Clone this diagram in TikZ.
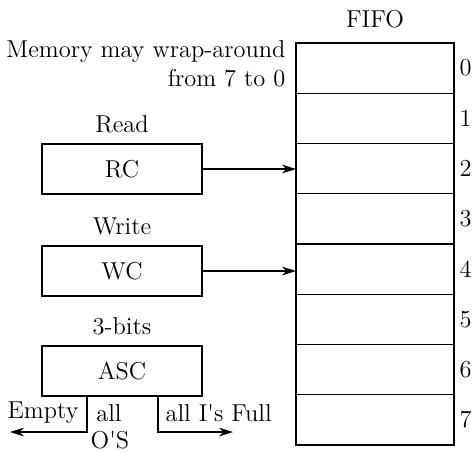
\documentclass[tikz,border=0pt]{standalone}
\usetikzlibrary{positioning,arrows.meta}
\begin{document}
\begin{tikzpicture}[x=0.02cm, y=-0.02cm, >={Stealth[length=8pt,width=5pt]}, line width=0.7pt,
		every node/.style={font=\fontsize{13.9}{16.5}\selectfont},
		cell/.style={draw, minimum width=3.16cm, minimum height=1.005cm, inner sep=0pt, outer sep=0pt},
		reg/.style={draw, minimum width=3.2cm, minimum height=1cm, inner sep=0pt, outer sep=0pt}]
	
	% 0. Khung hình
	\useasboundingbox (0,0) rectangle (475,451);
	
	% 1. Bộ nhớ FIFO 8 ô
	\foreach \i in {0,...,7}
	\node[cell] (m\i) at (375, 68+50.25*\i) {};
	\foreach \i in {0,...,7}
	\node[right=0.1cm of m\i.east, inner sep=0pt] (n\i) {\i};
	\node[above=0.28cm of m0, inner sep=0pt] (fifo) {FIFO};
	\node[anchor=east, align=right, inner sep=0pt] (wrap) at (286, 64) {Memory may wrap-around\\from 7 to 0};
	
	% 2. Các thanh ghi RC, WC, ASC
	\node[reg] (rc) at (122, 169) {RC};
	\node[reg] (wc) at (122, 271) {WC};
	\node[reg] (asc) at (122, 371) {ASC};
	\node[above=0.2cm of rc, inner sep=0pt] (read) {Read};
	\node[above=0.2cm of wc, inner sep=0pt] (write) {Write};
	\node[above=0.2cm of asc, inner sep=0pt] (bits) {3-bits};
	
	% 3. Mũi tên trỏ vào bộ nhớ
	\draw[->] (rc) -- (rc -| m2.west);
	\draw[->] (wc) -- (wc -| m4.west);
	
	% 4. Các cờ Empty / Full
	\coordinate (emptyend) at (10, 432);
	\coordinate (fullend) at (233, 432);
	\draw[->] ([xshift=0.9cm]asc.south west) |- (emptyend);
	\draw[->] ([xshift=-0.88cm]asc.south east) |- (fullend);
	\node[anchor=east, inner sep=0pt] (empty) at (79, 413) {Empty};
	\node[inner sep=0pt] (all0) at (109, 413) {all};
	\node[anchor=base, inner sep=0pt] (os) at (110, 448) {O{\textquotesingle}S};
	\node[anchor=west, inner sep=0pt] (full) at (165, 413) {all I{\textquotesingle}s Full};
	
\end{tikzpicture}
\end{document}
